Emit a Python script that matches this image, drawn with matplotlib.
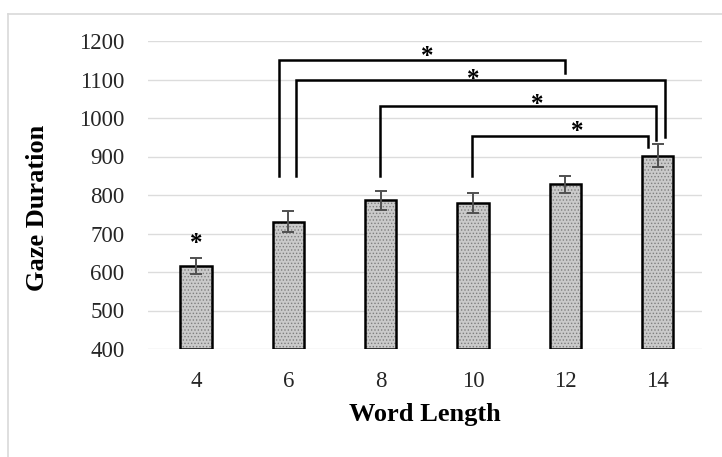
import matplotlib.pyplot as plt
from matplotlib.lines import Line2D

# data
word_length = ['4', '6', '8', '10', '12', '14']
gaze = [615, 731, 786, 780, 828, 902]
err = [21, 28, 25, 26, 22, 30]

# significance brackets: (left x, right x, bar height, left leg bottom, right leg bottom)
brackets = [
    (0.90, 4.00, 1150, 850, 1117),
    (1.08, 5.08, 1100, 850, 950),
    (1.99, 4.98, 1030, 850, 943),
    (2.99, 4.89, 952, 850, 925),
]
# star positions (x, y)
stars_x = [2.50, 3.00, 3.70, 4.13, 0]
stars_y = [1161, 1101, 1036, 964, 673]

plt.rcParams['font.family'] = ['Liberation Serif', 'DejaVu Serif']
plt.rcParams['hatch.linewidth'] = 0.6

W, H = 722, 457
fig = plt.figure(figsize=(W / 100, H / 100), dpi=100)
ax = fig.add_axes([148 / W, 1 - 349 / H, (702 - 148) / W, (349 - 41) / H])

x = list(range(len(word_length)))
heights = [g - 400 for g in gaze]

# dotted fill, then black outline
ax.bar(x, heights, bottom=400, width=0.34, color='#cacaca', edgecolor='#7e7e7e',
       hatch='.....', linewidth=0, zorder=2)
ax.bar(x, heights, bottom=400, width=0.34, color='none', edgecolor='black',
       linewidth=1.8, zorder=3)
ax.errorbar(x, gaze, yerr=err, fmt='none', ecolor='#505050', elinewidth=1.4,
            capsize=4, capthick=1.4, zorder=4)

for xl, xr, yb, yl, yr in brackets:
    ax.plot([xl, xl, xr, xr], [yl, yb, yb, yr], color='black', lw=1.8,
            solid_joinstyle='miter', clip_on=False, zorder=5)
for xs, ys in zip(stars_x, stars_y):
    ax.text(xs, ys, '*', ha='center', va='center', fontsize=18,
            fontweight='bold', zorder=6, clip_on=False)

ax.set_xlim(-0.52, 5.48)
ax.set_ylim(400, 1200)
ax.set_yticks(range(400, 1201, 100))
ax.set_xticks(x)
ax.set_xticklabels(word_length)
ax.grid(axis='y', color='#dcdcdc', lw=1.0, zorder=0)
ax.set_axisbelow(True)
for s in ax.spines.values():
    s.set_visible(False)
ax.tick_params(axis='both', length=0, labelsize=16.5, labelcolor='#262626')
ax.tick_params(axis='y', pad=17)
ax.tick_params(axis='x', pad=16)

ax.set_xlabel('Word Length', fontsize=19, fontweight='bold', labelpad=8)
fig.text(38 / W, 1 - 208 / H, 'Gaze Duration', rotation=90, ha='center',
         va='center', fontsize=19, fontweight='bold')

# light outer frame of the chart area
fig.add_artist(Line2D([8 / W, 1], [1 - 14 / H, 1 - 14 / H], color='#d9d9d9', lw=1.2))
fig.add_artist(Line2D([8 / W, 8 / W], [0, 1 - 14 / H], color='#d9d9d9', lw=1.2))

fig.savefig('out.png', dpi=100)
